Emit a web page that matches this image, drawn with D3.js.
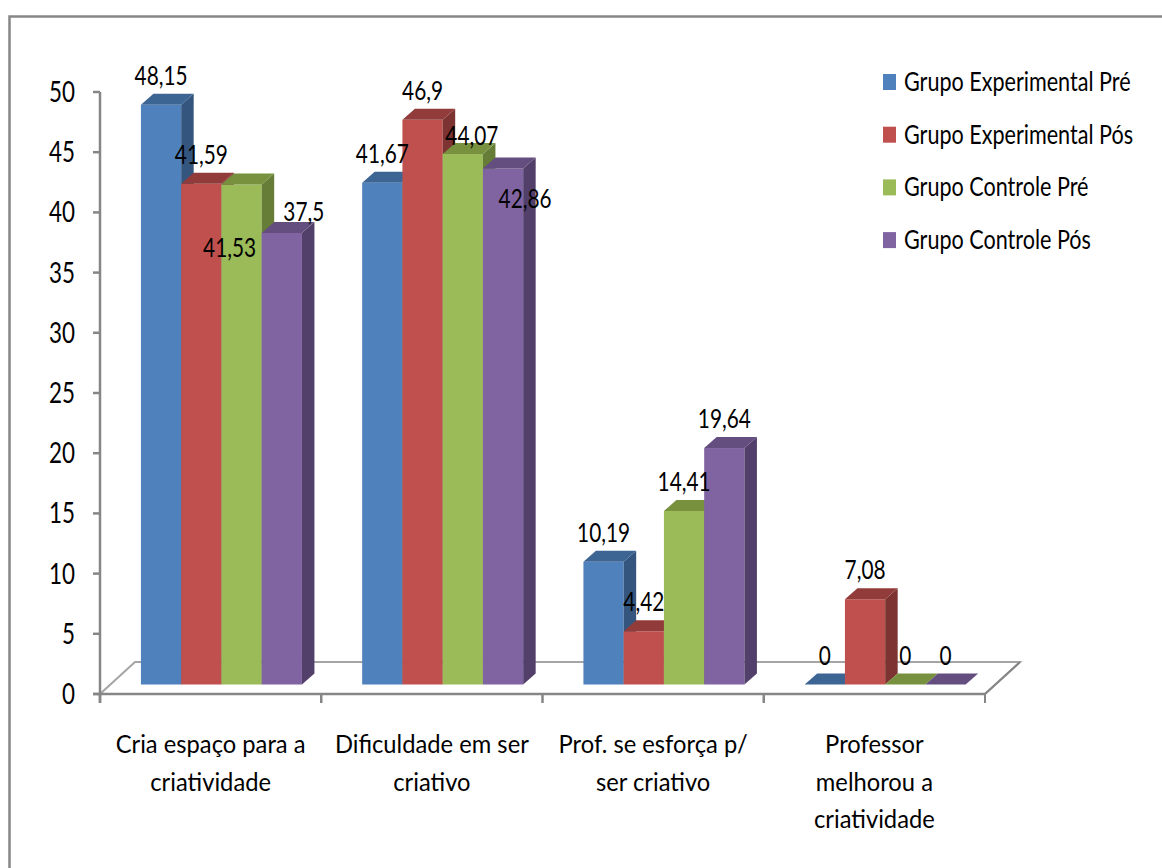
<!DOCTYPE html>
<html>
<head>
<meta charset="utf-8">
<script src="https://cdn.jsdelivr.net/npm/d3@7/dist/d3.min.js"></script>
<style>
  html, body { margin: 0; padding: 0; background: #fff; }
  svg { display: block; }
  text { font-family: Lato, "Liberation Sans", sans-serif; fill: #000; }
</style>
</head>
<body>
<svg id="chart" width="1162" height="868"></svg>
<script>
// Categories (line breaks mark where the axis label wraps)
const categories = [
  "Cria espaço para a\ncriatividade",
  "Dificuldade em ser\ncriativo",
  "Prof. se esforça p/\nser criativo",
  "Professor\nmelhorou a\ncriatividade"
];
const seriesNames = [
  "Grupo Experimental Pré",
  "Grupo Experimental Pós",
  "Grupo Controle Pré",
  "Grupo Controle Pós"
];
const grupoExperimentalPre = [48.15, 41.67, 10.19, 0];
const grupoExperimentalPos = [41.59, 46.9, 4.42, 7.08];
const grupoControlePre     = [41.53, 44.07, 14.41, 0];
const grupoControlePos     = [37.5, 42.86, 19.64, 0];
const yTickValues = [0, 5, 10, 15, 20, 25, 30, 35, 40, 45, 50];

const seriesValues = [grupoExperimentalPre, grupoExperimentalPos, grupoControlePre, grupoControlePos];

// Face colours: front, top, side
const palette = [
  { front: "#4F81BD", top: "#3D6594", side: "#34557E" },
  { front: "#C0504D", top: "#913C3A", side: "#7C3331" },
  { front: "#9BBB59", top: "#77913F", side: "#667D38" },
  { front: "#8064A2", top: "#634E7F", side: "#52406B" }
];

// Oblique projection offsets
const FLOOR_DX = 35, FLOOR_DY = 32;   // full floor depth
const FRONT_DX = 10.8, FRONT_DY = 9.5; // bar front face inside the floor
const BAR_DX = 12.5, BAR_DY = 11;      // bar depth

const SX = 0.8; // horizontal squeeze applied to the text

const svg = d3.select("#chart");

// Chart frame
svg.append("rect")
  .attr("x", 9.5).attr("y", 16.5)
  .attr("width", 1200).attr("height", 900)
  .attr("fill", "#fff").attr("stroke", "#868686").attr("stroke-width", 2.5);

const x0 = 100, x1 = 985;
const y = d3.scaleLinear().domain([0, 50]).range([694, 92]);
const x = d3.scaleBand().domain(categories).range([x0, x1]);
const GROUP_W = 161;
const xs = d3.scaleBand().domain(seriesNames).range([0, GROUP_W]);

function squeezedText(parent, tx, ty, str, size, anchor, sx) {
  const g = parent.append("g").attr("transform", `translate(${tx},${ty})`);
  g.append("text")
    .attr("transform", `scale(${sx},1)`)
    .attr("text-anchor", anchor)
    .attr("font-size", size)
    .text(str);
  return g;
}

// Floor outline (back edge and sides)
const y0 = y(0);
const floor = svg.append("g").attr("fill", "none").attr("stroke", "#A5A5A5").attr("stroke-width", 2);
floor.append("path").attr("d", d3.line()([
  [x0, y0], [x0 + FLOOR_DX, y0 - FLOOR_DY], [x1 + FLOOR_DX, y0 - FLOOR_DY], [x1, y0]
]));

// Bars, painted left to right so nearer faces cover hidden ones
const bars = svg.append("g");
categories.forEach((cat, ci) => {
  const groupLeft = x(cat) + (x.bandwidth() - GROUP_W) / 2 + FRONT_DX;
  seriesNames.forEach((s, si) => {
    const v = seriesValues[si][ci];
    const c = palette[si];
    const bx0 = groupLeft + xs(s);
    const bx1 = bx0 + xs.bandwidth();
    const yb = y(0) - FRONT_DY;
    const yt = y(v) - FRONT_DY;
    if (v > 0) {
      bars.append("rect")
        .attr("x", bx0).attr("y", yt)
        .attr("width", bx1 - bx0).attr("height", yb - yt)
        .attr("fill", c.front);
      bars.append("path")
        .attr("d", d3.line()([[bx1, yb], [bx1, yt], [bx1 + BAR_DX, yt - BAR_DY], [bx1 + BAR_DX, yb - BAR_DY]]) + "Z")
        .attr("fill", c.side);
    }
    bars.append("path")
      .attr("d", d3.line()([[bx0, yt], [bx0 + BAR_DX, yt - BAR_DY], [bx1 + BAR_DX, yt - BAR_DY], [bx1, yt]]) + "Z")
      .attr("fill", c.top);
  });
});

// Axes
const axes = svg.append("g").attr("stroke", "#868686").attr("fill", "none");
axes.append("line").attr("x1", x0).attr("x2", x0).attr("y1", y(50)).attr("y2", y0 + 9).attr("stroke-width", 2.5);
axes.append("line").attr("x1", x0 - 7).attr("x2", x1).attr("y1", y0).attr("y2", y0).attr("stroke-width", 2.5);
axes.append("path").attr("stroke-width", 2)
  .attr("d", d3.line()([[x1, y0 + 9], [x1, y0], [x1 + FLOOR_DX, y0 - FLOOR_DY]]));
yTickValues.forEach(t => {
  axes.append("line").attr("x1", x0 - 7).attr("x2", x0).attr("y1", y(t)).attr("y2", y(t)).attr("stroke-width", 2.5);
});
categories.forEach(cat => {
  const xe = x(cat);
  axes.append("line").attr("x1", xe).attr("x2", xe).attr("y1", y0).attr("y2", y0 + 9).attr("stroke-width", 2.5);
});

// Y tick labels
const yLabels = svg.append("g");
yTickValues.forEach(t => {
  squeezedText(yLabels, 75, y(t) + 10, String(t), 28, "end", SX);
});

// Category labels
const catLabels = svg.append("g");
categories.forEach(cat => {
  const cx = x(cat) + x.bandwidth() / 2;
  cat.split("\n").forEach((line, li) => {
    squeezedText(catLabels, cx, 753 + li * 37.5, line, 25, "middle", 0.95);
  });
});

// Value labels; a few are shifted to keep clear of neighbouring bars
const labelShift = { "0-2": [-12, 93], "0-3": [22, 8], "1-2": [9, 11], "1-3": [22, 60] };
const valueLabels = svg.append("g");
categories.forEach((cat, ci) => {
  const groupLeft = x(cat) + (x.bandwidth() - GROUP_W) / 2 + FRONT_DX;
  seriesNames.forEach((s, si) => {
    const v = seriesValues[si][ci];
    const cx = groupLeft + xs(s) + xs.bandwidth() / 2;
    const yt = y(v) - FRONT_DY;
    const sh = labelShift[ci + "-" + si] || [0, 0];
    squeezedText(valueLabels, cx + sh[0], yt - 20 + sh[1], String(v).replace(".", ","), 26, "middle", SX);
  });
});

// Legend
const legend = svg.append("g");
seriesNames.forEach((s, si) => {
  const top = 74 + si * 52.7;
  legend.append("rect").attr("x", 883).attr("y", top).attr("width", 13).attr("height", 16)
    .attr("fill", palette[si].front);
  squeezedText(legend, 904, top + 17, s, 26, "start", 0.83);
});
</script>
</body>
</html>
